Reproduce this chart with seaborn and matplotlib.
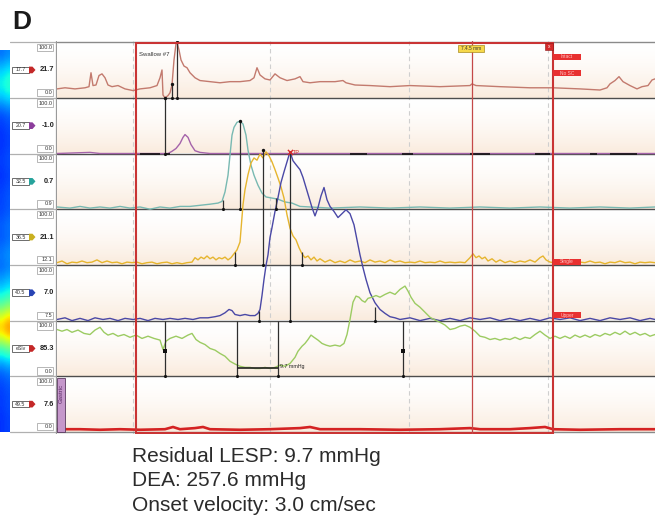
import numpy as np
import pandas as pd
import matplotlib
matplotlib.use("Agg")
import matplotlib.pyplot as plt
import seaborn as sns
from matplotlib.colors import LinearSegmentedColormap
from matplotlib.patches import Rectangle, Polygon

# time in seconds, pressure in mmHg; every channel row spans 100 mmHg
t_ch1 = [0, 0.8, 1.8, 2.8, 3.2, 3.4, 3.6, 3.9, 4.2, 4.5, 4.8, 5.1, 5.5, 6.1, 6.8, 7.6, 8.3, 9.3, 10.0,
         10.3, 10.5, 10.6, 10.8, 11.1, 11.3, 11.5, 11.7, 11.9, 12.0, 12.2, 12.4, 12.7, 13.0, 13.3, 13.8,
         14.3, 15.3, 16.3, 17.3, 18.3, 19.3, 19.7, 20.0, 20.3, 20.8, 21.3, 21.8, 22.3, 23.0, 23.8, 24.3,
         24.6, 25.3, 26.3, 27.8, 28.6, 28.9, 29.8, 31.3, 33.3, 35.3, 38.3, 41.3, 41.5, 41.9, 44.3, 47.3,
         49.6, 52.3, 54.3, 55.0, 55.3, 55.8, 56.2, 56.6, 57.3, 58.0, 58.5, 59.1, 59.5, 59.8]
p_ch1 = [16, 18, 16, 18, 20, 45, 22, 23, 40, 43, 36, 23, 20, 22, 16, 13, 16, 18, 22,
         36, 50, 5, 0, 4, 9, 23, 68, 97, 100, 86, 68, 57, 54, 45, 36,
         31, 29, 27, 29, 29, 31, 36, 54, 41, 34, 32, 43, 36, 31, 34, 38,
         29, 27, 29, 29, 31, 27, 23, 22, 20, 22, 20, 22, 25, 22, 20, 18,
         18, 16, 14, 18, 25, 31, 38, 29, 22, 16, 20, 22, 32, 34]

t_ch2 = [0, 3.3, 4.3, 11.1, 11.5, 11.9, 12.3, 12.6, 12.8, 13.1, 13.4, 13.8, 14.3, 15.3, 59.8]
p_ch2 = [0, 2, 0, 0, 4, 9, 18, 29, 34, 29, 16, 5, 2, 0, 0]

t_ch3 = [0, 1.3, 2.3, 3.3, 4.3, 5.3, 6.3, 7.3, 8.3, 9.3, 10.3, 11.3, 12.3, 13.3, 14.3, 15.3, 16.1,
         16.5, 16.8, 17.1, 17.3, 17.5, 17.7, 18.0, 18.3, 18.6, 18.9, 19.1, 19.4, 19.7, 20.1, 20.5,
         20.9, 21.5, 22.1, 22.8, 23.5, 24.3, 25.3, 27.3, 30.3, 33.3, 36.3, 39.3, 42.3, 45.3, 48.3,
         51.3, 54.3, 57.3, 59.8]
p_ch3 = [4, 2, 5, 2, 4, 2, 5, 2, 4, 0, 4, 2, 5, 5, 7, 9, 11,
         14, 31, 61, 97, 133, 147, 156, 158, 153, 133, 106, 79, 61, 43, 29,
         22, 20, 18, 13, 11, 5, 4, 2, 4, 2, 4, 2, 4, 2, 4,
         2, 4, 2, 4]

t_ch4 = [0, 0.5, 1.0, 1.5, 2.0, 2.5, 3.0, 3.5, 4.0, 4.5, 5.0, 5.5, 6.0, 6.5, 7.0, 7.5, 8.0, 8.5, 9.0,
         9.5, 10.0, 10.5, 11.0, 11.5, 12.0, 12.5, 13.0, 13.5, 13.8, 14.1, 14.4, 14.7, 15.0, 15.3, 15.6,
         15.9, 16.2, 16.5, 16.8, 17.1, 17.4, 17.7, 18.0, 18.3, 18.6, 18.8, 19.1, 19.4, 19.7, 20.0, 20.3,
         20.6, 20.9, 21.2, 21.5, 21.8, 22.1, 22.4, 22.7, 23.0, 23.3, 23.6, 23.9, 24.2, 24.5, 24.8, 25.1,
         25.4, 25.7, 26.0, 26.3, 26.8, 27.3, 27.8, 28.3, 28.8, 29.3, 29.8, 30.3, 30.8, 31.3, 31.8, 32.3,
         32.8, 33.3, 33.8, 34.3, 34.8, 35.3, 35.8, 36.3, 36.8, 37.3, 37.8, 38.3, 38.8, 39.3, 39.8, 40.3,
         40.8, 41.3, 41.6, 41.9, 42.2, 42.5, 42.8, 43.1, 43.5, 43.9, 44.3, 44.8, 45.3, 45.8, 46.3, 46.8,
         47.3, 47.8, 48.3, 48.6, 48.9, 49.3, 49.8, 50.3, 50.8, 51.3, 51.8, 52.3, 52.8, 53.3, 53.8, 54.3,
         54.8, 55.3, 55.8, 56.3, 56.8, 57.3, 57.8, 58.3, 58.8, 59.3, 59.8]
p_ch4 = [4, 7, 2, 5, 4, 7, 4, 5, 9, 4, 7, 4, 5, 2, 5, 4, 5, 2, 4,
         5, 2, 4, 5, 2, 4, 2, 4, 5, 13, 9, 14, 11, 16, 11, 14,
         9, 13, 11, 14, 9, 13, 20, 27, 41, 108, 135, 162, 183, 192, 188, 199,
         192, 203, 196, 185, 171, 156, 140, 120, 90, 66, 52, 45, 31, 20, 13, 16,
         9, 14, 7, 11, 5, 9, 4, 7, 4, 9, 5, 7, 4, 9, 5, 7,
         4, 9, 5, 7, 4, 5, 4, 7, 4, 5, 4, 7, 4, 5, 4, 5,
         4, 13, 20, 13, 16, 11, 14, 7, 11, 5, 9, 4, 7, 4, 7, 5,
         9, 5, 13, 16, 9, 5, 4, 7, 4, 5, 2, 5, 4, 7, 4, 5,
         2, 5, 4, 7, 4, 5, 2, 5, 4, 5, 4]

t_ch5 = [0, 0.8, 1.5, 2.3, 3.1, 3.8, 4.6, 5.3, 6.1, 6.8, 7.6, 8.3, 9.1, 9.8, 10.6, 11.3, 12.1, 12.8,
         13.6, 14.3, 15.1, 15.8, 16.3, 16.8, 17.2, 17.5, 17.8, 18.3, 18.8, 19.3, 19.8, 20.1, 20.3, 20.5,
         20.7, 20.9, 21.1, 21.3, 21.5, 21.8, 22.1, 22.4, 22.7, 23.0, 23.3, 23.6, 23.9, 24.3, 24.6, 24.9,
         25.2, 25.5, 25.8, 26.1, 26.4, 26.7, 27.0, 27.3, 27.7, 28.1, 28.5, 28.9, 29.3, 29.7, 30.0, 30.3,
         30.6, 30.9, 31.3, 31.8, 32.3, 32.8, 33.3, 33.8, 34.3, 35.3, 36.3, 37.3, 38.3, 39.3, 40.3, 41.3,
         42.3, 43.3, 44.3, 45.3, 46.3, 47.3, 48.3, 49.3, 50.3, 51.3, 52.3, 53.3, 54.3, 55.3, 56.3, 57.3,
         58.3, 59.3, 59.8]
p_ch5 = [2, 5, 0, 4, 0, 5, 2, 4, 0, 4, 2, 4, 0, 4, 2, 4, 2, 4,
         2, 5, 5, 7, 9, 14, 20, 18, 11, 9, 11, 9, 9, 13, 20, 45,
         74, 99, 118, 149, 167, 196, 221, 248, 267, 285, 303, 287, 280, 271, 257, 239,
         221, 203, 188, 203, 224, 239, 217, 205, 196, 185, 192, 199, 192, 172, 145, 118,
         95, 74, 50, 32, 20, 13, 7, 5, 2, 5, 0, 4, 0, 4, 0, 5,
         2, 5, 0, 4, 0, 4, 0, 5, 2, 5, 0, 4, 0, 5, 2, 5,
         0, 4, 2]

t_ch6 = [0, 0.5, 1.0, 1.5, 2.1, 2.7, 3.3, 3.8, 4.3, 4.7, 5.1, 5.6, 6.1, 6.7, 7.3, 7.9, 8.5, 9.1, 9.7,
         10.3, 10.6, 10.9, 11.3, 11.9, 12.5, 13.1, 13.5, 13.9, 14.3, 14.8, 15.3, 15.8, 16.3, 16.8, 17.3,
         17.8, 18.3, 18.8, 19.3, 19.8, 20.3, 20.8, 21.3, 21.8, 22.3, 22.8, 23.3, 23.8, 24.1, 24.5, 24.8,
         25.1, 25.4, 25.7, 26.1, 26.5, 26.9, 27.3, 27.8, 28.3, 28.7, 29.0, 29.3, 29.6, 29.9, 30.2, 30.5,
         30.8, 31.1, 31.5, 31.9, 32.3, 32.8, 33.3, 33.8, 34.3, 34.8, 35.1, 35.4, 35.8, 36.3, 36.8, 37.3,
         37.8, 38.3, 38.8, 39.3, 39.8, 40.3, 40.8, 41.3, 41.8, 42.3, 42.8, 43.3, 43.8, 44.3, 44.8, 45.3,
         45.8, 46.3, 46.8, 47.3, 47.8, 48.3, 48.8, 49.3, 49.8, 50.3, 50.8, 51.3, 51.8, 52.3, 52.8, 53.3,
         53.8, 54.3, 54.8, 55.3, 55.8, 56.3, 56.8, 57.3, 57.8, 58.3, 58.8, 59.3, 59.8]
p_ch6 = [84, 81, 84, 79, 83, 77, 75, 83, 88, 79, 74, 77, 72, 75, 70, 74, 68, 72, 68,
         65, 48, 63, 68, 72, 68, 74, 77, 66, 61, 57, 50, 47, 41, 36, 27,
         22, 18, 16, 16, 14, 14, 16, 14, 16, 20, 18, 23, 34, 45, 54, 59,
         66, 74, 70, 65, 59, 56, 54, 56, 54, 59, 75, 102, 133, 144, 142, 136,
         133, 140, 142, 145, 142, 147, 151, 147, 156, 162, 153, 142, 131, 124, 115, 106,
         101, 97, 92, 84, 86, 90, 92, 88, 81, 72, 70, 66, 68, 65, 68, 66,
         70, 66, 70, 68, 75, 81, 74, 68, 72, 68, 72, 68, 74, 70, 74, 70,
         75, 72, 77, 74, 79, 75, 81, 75, 79, 74, 77, 72, 75]

t_ch7 = [0, 2.3, 4.3, 6.3, 8.3, 10.8, 11.6, 12.3, 13.8, 14.6, 15.3, 18.3, 21.3, 24.3, 25.3, 26.3,
         30.3, 34.3, 38.3, 41.3, 42.3, 45.3, 47.3, 48.8, 49.6, 52.3, 56.3, 59.8]
p_ch7 = [5, 5, 4, 5, 4, 5, 9, 5, 7, 9, 5, 4, 5, 7, 9, 5,
         5, 4, 5, 7, 5, 5, 7, 9, 5, 4, 5, 5]

tag_labels = ["17.7", "20.7", "32.5", "36.5", "40.5", "eSlv", "49.5"]
tag_colors = ["#c42828", "#8c3d9c", "#26a39c", "#c9b020", "#2844b4", "#c42828", "#c42828"]
current_values = ["21.7", "-1.0", "0.7", "21.1", "7.0", "85.3", "7.6"]
scale_top = ["100.0"] * 7
scale_bottom = ["0.0", "0.0", "0.9", "12.1", "7.5", "0.0", "0.0"]
trace_colors = ["#c37a6e", "#a463aa", "#78b9b2", "#e6b52e", "#4a48a6", "#9ccb62", "#d42222"]

# analysis cursors (time, top, bottom on the stacked pressure scale)
cursor_t = [12.0, 11.5, 10.8, 18.3, 20.6, 23.3, 16.6, 21.9, 17.8, 24.5, 20.2, 31.8, 10.8, 34.6, 18.0, 22.1]
cursor_top = [700, 625, 600, 558, 506, 503, 416, 420, 323, 323, 217, 224, 200, 200, 200, 200]
cursor_bottom = [600, 600, 500, 400, 300, 199, 400, 400, 300, 300, 200, 200, 100, 100, 100, 100]
square_t = [10.8, 34.6]
square_y = [145, 145]
residual_t = [18.0, 22.1]
residual_y = 115
tp_t, tp_y = 23.3, 503

dash_start = [8.3, 10.8, 29.3, 34.5, 41.3, 47.8, 53.3, 55.3]
dash_end = [10.3, 11.3, 31.0, 35.6, 43.3, 49.3, 54.0, 58.0]

dashed_t = [7.6, 21.3, 35.2, 49.1]
box_t = [7.9, 49.6]
marker_t = 41.5

strip_levels = [0.26, 0.32, 0.38, 0.40, 0.36, 0.28, 0.22, 0.20, 0.19, 0.19, 0.20, 0.20, 0.19,
                0.20, 0.21, 0.21, 0.22, 0.24, 0.23, 0.25, 0.27, 0.25, 0.29, 0.34, 0.42, 0.52,
                0.66, 0.76, 0.68, 0.50, 0.38, 0.28, 0.23, 0.21, 0.20, 0.20, 0.19, 0.19]

sns.set_style("white")
plt.rcParams["font.family"] = ["Liberation Sans", "DejaVu Sans"]

W, H = 659, 517
fig = plt.figure(figsize=(W / 100, H / 100), dpi=100)


def fig_rect(x0, y0, x1, y1):
    return [x0 / W, 1 - y1 / H, (x1 - x0) / W, (y1 - y0) / H]


YLIM = (-3.6, 702)
TMAX = 59.8

# neighbouring pressure topography strip on the far left
ax_strip = fig.add_axes(fig_rect(0, 50, 10, 432))
strip = np.column_stack([np.array(strip_levels) * 0.92, np.array(strip_levels)])
ax_strip.imshow(strip, cmap="jet", vmin=0, vmax=1, aspect="auto", interpolation="bicubic")
ax_strip.axis("off")

# main tracing area
ax = fig.add_axes(fig_rect(57, 41, 655, 434))
peach = LinearSegmentedColormap.from_list("peach", ["#ffffff", "#faebdd"])
grad = (np.linspace(0, 1, 60) ** 1.6).reshape(-1, 1)
for k in range(7):
    base = 600 - 100 * k
    ax.imshow(grad, cmap=peach, aspect="auto", extent=[0, TMAX, base, base + 100],
              zorder=0, vmin=0, vmax=1)

for xv in dashed_t:
    ax.axvline(xv, color="#cfcfcf", lw=0.8, ls=(0, (4, 3)), zorder=1)

for yb in [600, 500, 400, 300, 200, 100]:
    ax.axhline(yb, color="#4d4d4d", lw=1.0, zorder=2)
ax.axhline(0, color="#8a8a8a", lw=1.0, zorder=2)
ax.axhline(700, color="#8a8a8a", lw=1.0, zorder=2)

channels = [(t_ch1, p_ch1), (t_ch2, p_ch2), (t_ch3, p_ch3), (t_ch4, p_ch4),
            (t_ch5, p_ch5), (t_ch6, p_ch6), (t_ch7, p_ch7)]
for k, (tt, pp) in enumerate(channels):
    df = pd.DataFrame({"t": tt, "p": np.array(pp, dtype=float) + 600 - 100 * k})
    sns.lineplot(data=df, x="t", y="p", ax=ax, color=trace_colors[k], estimator=None,
                 sort=False, lw=1.9 if k == 6 else 1.0, zorder=3)

# black runs on the second channel baseline
ax.hlines([500] * len(dash_start), dash_start, dash_end, color="#111111", lw=1.2, zorder=3)

# cursors
ax.vlines(cursor_t, cursor_bottom, cursor_top, color="#2e2e2e", lw=0.9, zorder=4)
ax.scatter(cursor_t, cursor_bottom, s=5, color="#111111", zorder=5, linewidths=0)
ax.scatter(cursor_t[:5], cursor_top[:5], s=6, color="#111111", zorder=5, linewidths=0)
ax.scatter(square_t, square_y, s=12, marker="s", color="#111111", zorder=5, linewidths=0)
ax.hlines(residual_y, residual_t[0], residual_t[1], color="#222222", lw=1.2, zorder=4)
ax.text(residual_t[1] + 0.2, residual_y + 3, "9.7 mmHg", fontsize=3.8, color="#222222",
        va="center", ha="left", zorder=6)
ax.scatter([tp_t], [tp_y], s=14, marker="x", color="#d42a2a", zorder=6, linewidths=1.0)
ax.text(tp_t + 0.3, tp_y - 1, "TP", fontsize=4, color="#d42a2a", va="center", ha="left", zorder=6)

# swallow window
ax.add_patch(Rectangle((box_t[0], -2), box_t[1] - box_t[0], 700, fill=False,
                       ec="#c93434", lw=1.5, zorder=6))
ax.axvline(marker_t, color="#c44848", lw=0.9, zorder=6)
ax.text(box_t[0] + 0.3, 677, "Swallow #7", fontsize=4.3, color="#333333", va="center", zorder=6)

ax.add_patch(Rectangle((40.1, 682), 2.6, 12, fc="#f6d84a", ec="#a88a20", lw=0.5, zorder=7))
ax.text(41.4, 688, "7.4.5 mm", fontsize=3.4, color="#333333", ha="center", va="center", zorder=8)
ax.add_patch(Rectangle((48.8, 686), 0.8, 12, fc="#d42a2a", ec="#8a1a1a", lw=0.4, zorder=7))
ax.text(49.2, 692, "x", fontsize=3.5, color="white", ha="center", va="center", zorder=8)
flag_labels = ["Intact", "No SC", "Single", "Upper"]
flag_y = [668, 639, 300, 204]
for lbl, fy in zip(flag_labels, flag_y):
    ax.add_patch(Rectangle((box_t[1], fy), 2.8, 11, fc="#e83030", ec="none", zorder=7))
    ax.text(box_t[1] + 1.4, fy + 5.5, lbl, fontsize=3.5, color="#ffc2c2",
            ha="center", va="center", zorder=8)

# gastric label
ax.add_patch(Rectangle((0, 0), 0.8, 97, fc="#c597cb", ec="#5a3a60", lw=0.6, zorder=7))
ax.text(0.4, 70, "Gastric", rotation=90, fontsize=4.3, color="#5a2a66",
        ha="center", va="center", zorder=8)

ax.set_xlim(0, TMAX)
ax.set_ylim(*YLIM)
ax.set_xlabel("")
ax.set_ylabel("")
ax.axis("off")

# channel label column
ax_lab = fig.add_axes(fig_rect(10, 41, 57, 434))
ax_lab.set_xlim(10, 57)
ax_lab.set_ylim(*YLIM)
ax_lab.axis("off")
for yb in [700, 600, 500, 400, 300, 200, 100, 0]:
    ax_lab.axhline(yb, color="#b0b0b0", lw=0.9)
ax_lab.axvline(56.3, color="#9a9a9a", lw=0.9)
for k in range(7):
    base = 600 - 100 * k
    top = base + 100
    ax_lab.add_patch(Rectangle((37, top - 16), 16, 13, fc="white", ec="#9a9a9a", lw=0.5))
    ax_lab.text(52.5, top - 9.5, scale_top[k], fontsize=4, color="#333333", ha="right", va="center")
    ax_lab.add_patch(Rectangle((37, base + 3), 16, 13, fc="white", ec="#9a9a9a", lw=0.5))
    ax_lab.text(52.5, base + 9.5, scale_bottom[k], fontsize=4, color="#333333", ha="right", va="center")
    cy = base + 50
    ax_lab.add_patch(Rectangle((12, cy - 6), 17, 12, fc="white", ec="#555555", lw=0.6))
    ax_lab.add_patch(Polygon([(29, cy - 6), (32.5, cy - 6), (35.5, cy), (32.5, cy + 6), (29, cy + 6)],
                             closed=True, fc=tag_colors[k], ec="none"))
    ax_lab.text(20.5, cy, tag_labels[k], fontsize=3.8, color="#333333", ha="center", va="center")
    ax_lab.text(54, cy, current_values[k], fontsize=5.3, color="#222222", ha="right",
                va="center", fontweight="bold")

# panel letter and summary
fig.text(12 / W, 1 - 29 / H, "D", fontsize=19, fontweight="bold", color="#1a1a1a",
         ha="left", va="baseline")
summary = ["Residual LESP: 9.7 mmHg", "DEA: 257.6 mmHg", "Onset velocity: 3.0 cm/sec"]
for i, line in enumerate(summary):
    fig.text(132 / W, 1 - (462 + 24.5 * i) / H, line, fontsize=15, color="#2b2b2b",
             ha="left", va="baseline")

fig.savefig("out.png", dpi=100)
